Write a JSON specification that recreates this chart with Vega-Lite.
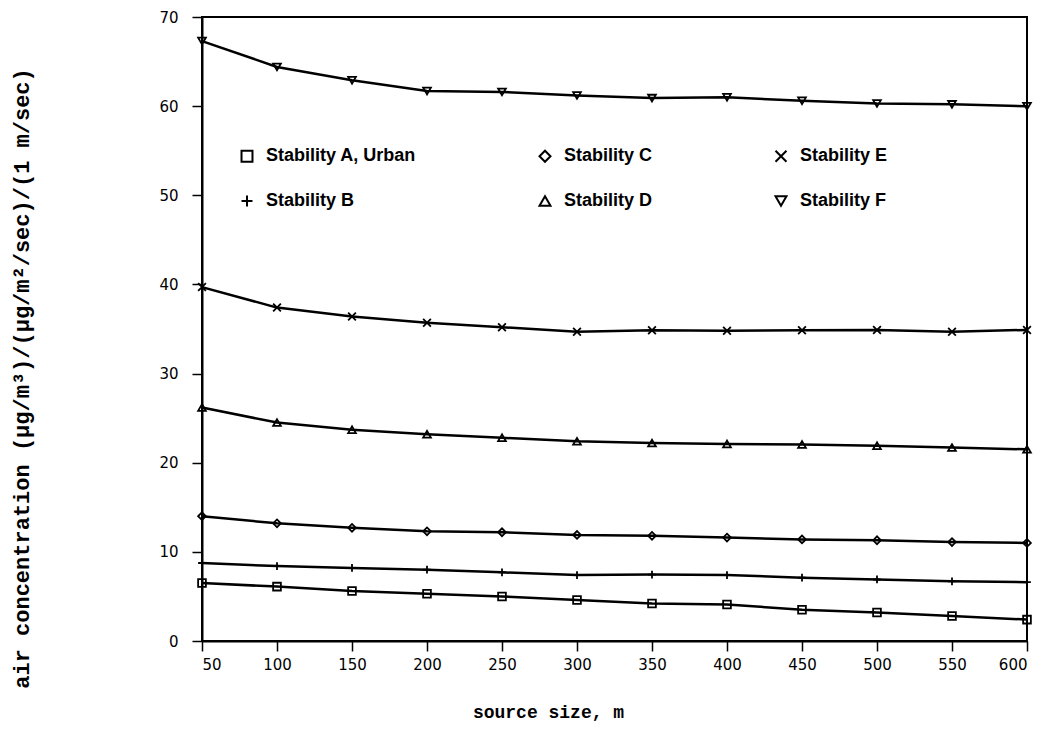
{
  "$schema": "https://vega.github.io/schema/vega-lite/v6.json",
  "width": 825,
  "height": 624,
  "autosize": {"type": "none"},
  "padding": {"left": 202, "top": 17, "right": 18, "bottom": 108},
  "background": "white",
  "data": {
    "values": [
      {"size": 50, "series": "Stability A, Urban", "conc": 6.5},
      {"size": 100, "series": "Stability A, Urban", "conc": 6.1},
      {"size": 150, "series": "Stability A, Urban", "conc": 5.6},
      {"size": 200, "series": "Stability A, Urban", "conc": 5.3},
      {"size": 250, "series": "Stability A, Urban", "conc": 5.0},
      {"size": 300, "series": "Stability A, Urban", "conc": 4.6},
      {"size": 350, "series": "Stability A, Urban", "conc": 4.2},
      {"size": 400, "series": "Stability A, Urban", "conc": 4.1},
      {"size": 450, "series": "Stability A, Urban", "conc": 3.5},
      {"size": 500, "series": "Stability A, Urban", "conc": 3.2},
      {"size": 550, "series": "Stability A, Urban", "conc": 2.8},
      {"size": 600, "series": "Stability A, Urban", "conc": 2.4},
      {"size": 50, "series": "Stability B", "conc": 8.75},
      {"size": 100, "series": "Stability B", "conc": 8.4},
      {"size": 150, "series": "Stability B", "conc": 8.2},
      {"size": 200, "series": "Stability B", "conc": 8.0},
      {"size": 250, "series": "Stability B", "conc": 7.7},
      {"size": 300, "series": "Stability B", "conc": 7.4},
      {"size": 350, "series": "Stability B", "conc": 7.45},
      {"size": 400, "series": "Stability B", "conc": 7.4},
      {"size": 450, "series": "Stability B", "conc": 7.1},
      {"size": 500, "series": "Stability B", "conc": 6.9},
      {"size": 550, "series": "Stability B", "conc": 6.7},
      {"size": 600, "series": "Stability B", "conc": 6.6},
      {"size": 50, "series": "Stability C", "conc": 14.0},
      {"size": 100, "series": "Stability C", "conc": 13.2},
      {"size": 150, "series": "Stability C", "conc": 12.7},
      {"size": 200, "series": "Stability C", "conc": 12.3},
      {"size": 250, "series": "Stability C", "conc": 12.2},
      {"size": 300, "series": "Stability C", "conc": 11.9},
      {"size": 350, "series": "Stability C", "conc": 11.8},
      {"size": 400, "series": "Stability C", "conc": 11.6},
      {"size": 450, "series": "Stability C", "conc": 11.4},
      {"size": 500, "series": "Stability C", "conc": 11.3},
      {"size": 550, "series": "Stability C", "conc": 11.1},
      {"size": 600, "series": "Stability C", "conc": 11.0},
      {"size": 50, "series": "Stability D", "conc": 26.2},
      {"size": 100, "series": "Stability D", "conc": 24.5},
      {"size": 150, "series": "Stability D", "conc": 23.7},
      {"size": 200, "series": "Stability D", "conc": 23.2},
      {"size": 250, "series": "Stability D", "conc": 22.8},
      {"size": 300, "series": "Stability D", "conc": 22.4},
      {"size": 350, "series": "Stability D", "conc": 22.2},
      {"size": 400, "series": "Stability D", "conc": 22.1},
      {"size": 450, "series": "Stability D", "conc": 22.05},
      {"size": 500, "series": "Stability D", "conc": 21.9},
      {"size": 550, "series": "Stability D", "conc": 21.7},
      {"size": 600, "series": "Stability D", "conc": 21.5},
      {"size": 50, "series": "Stability E", "conc": 39.7},
      {"size": 100, "series": "Stability E", "conc": 37.4},
      {"size": 150, "series": "Stability E", "conc": 36.4},
      {"size": 200, "series": "Stability E", "conc": 35.7},
      {"size": 250, "series": "Stability E", "conc": 35.2},
      {"size": 300, "series": "Stability E", "conc": 34.7},
      {"size": 350, "series": "Stability E", "conc": 34.85},
      {"size": 400, "series": "Stability E", "conc": 34.8},
      {"size": 450, "series": "Stability E", "conc": 34.85},
      {"size": 500, "series": "Stability E", "conc": 34.9},
      {"size": 550, "series": "Stability E", "conc": 34.7},
      {"size": 600, "series": "Stability E", "conc": 34.9},
      {"size": 50, "series": "Stability F", "conc": 67.3},
      {"size": 100, "series": "Stability F", "conc": 64.4},
      {"size": 150, "series": "Stability F", "conc": 62.9},
      {"size": 200, "series": "Stability F", "conc": 61.7},
      {"size": 250, "series": "Stability F", "conc": 61.6},
      {"size": 300, "series": "Stability F", "conc": 61.2},
      {"size": 350, "series": "Stability F", "conc": 60.9},
      {"size": 400, "series": "Stability F", "conc": 61.0},
      {"size": 450, "series": "Stability F", "conc": 60.6},
      {"size": 500, "series": "Stability F", "conc": 60.3},
      {"size": 550, "series": "Stability F", "conc": 60.2},
      {"size": 600, "series": "Stability F", "conc": 60.0}
    ]
  },
  "encoding": {
    "x": {
      "field": "size",
      "type": "quantitative",
      "scale": {"domain": [50, 600], "nice": false, "zero": false},
      "axis": {
        "values": [50, 100, 150, 200, 250, 300, 350, 400, 450, 500, 550, 600],
        "title": "source size, m",
        "titleX": 346,
        "titleY": 62,
        "titleAlign": "center",
        "titleBaseline": "top",
        "titleFontSize": 18,
        "labelPadding": 6
      }
    },
    "y": {
      "field": "conc",
      "type": "quantitative",
      "scale": {"domain": [0, 70], "nice": false},
      "axis": {
        "values": [0, 10, 20, 30, 40, 50, 60, 70],
        "title": "air concentration (µg/m³)/(µg/m²/sec)/(1 m/sec)",
        "titleX": -181,
        "titleY": 361,
        "titleAngle": -90,
        "titleAlign": "center",
        "titleBaseline": "middle",
        "titleFontSize": 22,
        "labelPadding": 14
      }
    }
  },
  "layer": [
    {
      "mark": {"type": "line", "color": "black", "strokeWidth": 2.5},
      "encoding": {"detail": {"field": "series", "type": "nominal"}}
    },
    {
      "mark": {"type": "point", "filled": false, "color": "black", "size": 60, "strokeWidth": 1.8, "opacity": 1},
      "encoding": {
        "shape": {
          "field": "series",
          "type": "nominal",
          "scale": {
            "domain": ["Stability A, Urban", "Stability B", "Stability C", "Stability D", "Stability E", "Stability F"],
            "range": ["square", "M-1,0L1,0M0,-1L0,1", "diamond", "triangle-up", "M-1,-1L1,1M-1,1L1,-1", "triangle-down"]
          },
          "legend": {
            "title": null,
            "orient": "none",
            "legendX": 36,
            "legendY": 130,
            "columns": 3,
            "columnPadding": 118,
            "rowPadding": 25,
            "symbolSize": 120,
            "symbolStrokeWidth": 2,
            "symbolStrokeColor": "black",
            "symbolFillColor": "transparent",
            "labelFont": "Liberation Sans",
            "labelFontWeight": "bold",
            "labelFontSize": 18,
            "labelColor": "black",
            "labelOffset": 10,
            "labelLimit": 300
          }
        }
      }
    }
  ],
  "config": {
    "view": {"stroke": "black", "strokeWidth": 2},
    "axis": {
      "grid": false,
      "domainColor": "black",
      "domainWidth": 2,
      "tickColor": "black",
      "tickWidth": 1.5,
      "tickSize": 10,
      "labelFont": "DejaVu Sans",
      "labelFontSize": 15,
      "labelColor": "black",
      "titleFont": "Liberation Mono",
      "titleFontWeight": "bold",
      "titleColor": "black"
    }
  }
}
